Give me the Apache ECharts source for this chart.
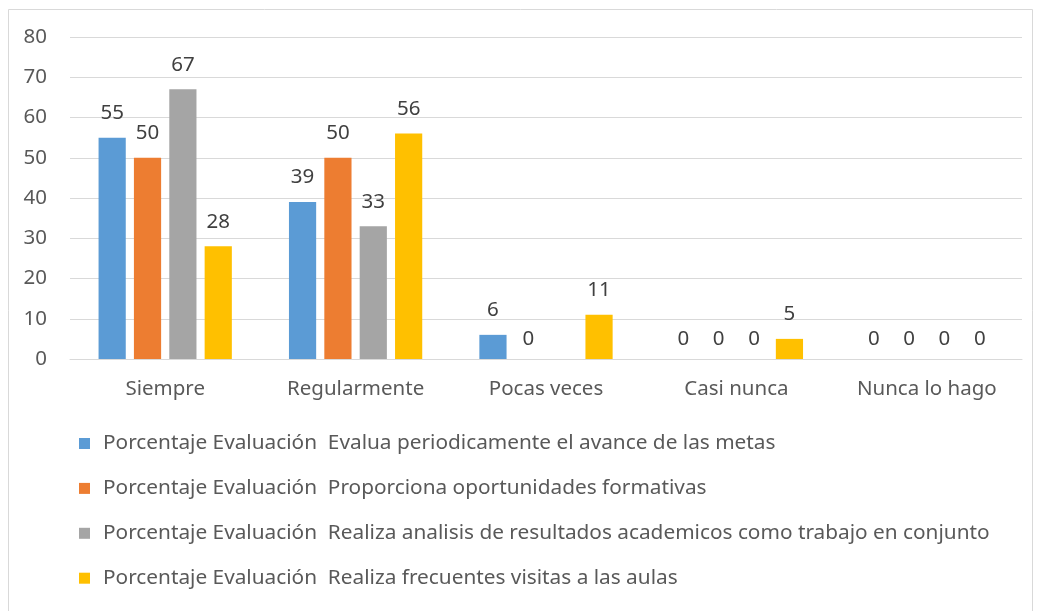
<!DOCTYPE html>
<html>
<head>
<meta charset="utf-8">
<script src="https://cdn.jsdelivr.net/npm/echarts@6/dist/echarts.min.js"></script>
<style>
html,body{margin:0;padding:0;background:#fff;}
#c{width:1037px;height:611px;}
</style>
</head>
<body>
<div id="c"></div>
<script>
const categories = ['Siempre', 'Regularmente', 'Pocas veces', 'Casi nunca', 'Nunca lo hago'];
const seriesNames = [
  'Porcentaje Evaluación  Evalua periodicamente el avance de las metas',
  'Porcentaje Evaluación  Proporciona oportunidades formativas',
  'Porcentaje Evaluación  Realiza analisis de resultados academicos como trabajo en conjunto',
  'Porcentaje Evaluación  Realiza frecuentes visitas a las aulas'
];
const evaluaMetas = [55, 39, 6, 0, 0];
const oportunidades = [50, 50, 0, 0, 0];
const analisisResultados = [67, 33, null, 0, 0];
const visitasAulas = [28, 56, 11, 5, 0];
const yTicks = [0, 10, 20, 30, 40, 50, 60, 70, 80];

const colors = ['#5b9bd5', '#ed7d31', '#a5a5a5', '#ffc000'];
const FONT = 'Noto Sans';
const FS = 20.5;
const LFS = 20.8;
const allData = [evaluaMetas, oportunidades, analisisResultados, visitasAulas];

function build(arr) {
  return arr.map(v => v === 0 ? { value: 0, label: { distance: 9 } } : v);
}

const chart = echarts.init(document.getElementById('c'), null, { renderer: 'canvas' });
chart.setOption({
  backgroundColor: '#fff',
  animation: false,
  textStyle: { fontFamily: FONT },
  graphic: [{
    type: 'rect', left: 6, top: 7, silent: true,
    shape: { width: 1024, height: 620 },
    style: { fill: 'none', stroke: '#d9d9d9', lineWidth: 1 }
  }],
  grid: { left: 70, right: 15, top: 37, bottom: 252, containLabel: false },
  legend: {
    orient: 'vertical', left: 79, top: 433, padding: 0,
    itemWidth: 11, itemHeight: 11, itemGap: 23.9,
    icon: 'rect',
    textStyle: { fontFamily: FONT, fontSize: LFS, color: '#595959', padding: [0, 0, 0, 8] },
    data: seriesNames
  },
  xAxis: {
    type: 'category', data: categories,
    axisLine: { lineStyle: { color: '#d9d9d9', width: 1 } },
    axisTick: { show: false },
    axisLabel: { fontFamily: FONT, fontSize: FS, color: '#595959', margin: 20 }
  },
  yAxis: {
    type: 'value', min: yTicks[0], max: yTicks[yTicks.length - 1], interval: 10,
    axisLine: { show: false }, axisTick: { show: false },
    splitLine: { lineStyle: { color: '#d9d9d9', width: 1 } },
    axisLabel: { fontFamily: FONT, fontSize: FS, color: '#595959', margin: 23 }
  },
  series: allData.map((d, i) => ({
    name: seriesNames[i],
    type: 'bar',
    data: build(d),
    barGap: '30%',
    barCategoryGap: '30%',
    itemStyle: { color: colors[i] },
    label: {
      show: true, position: 'top', distance: 14,
      fontFamily: FONT, fontSize: FS, color: '#404040'
    }
  }))
});
</script>
</body>
</html>
